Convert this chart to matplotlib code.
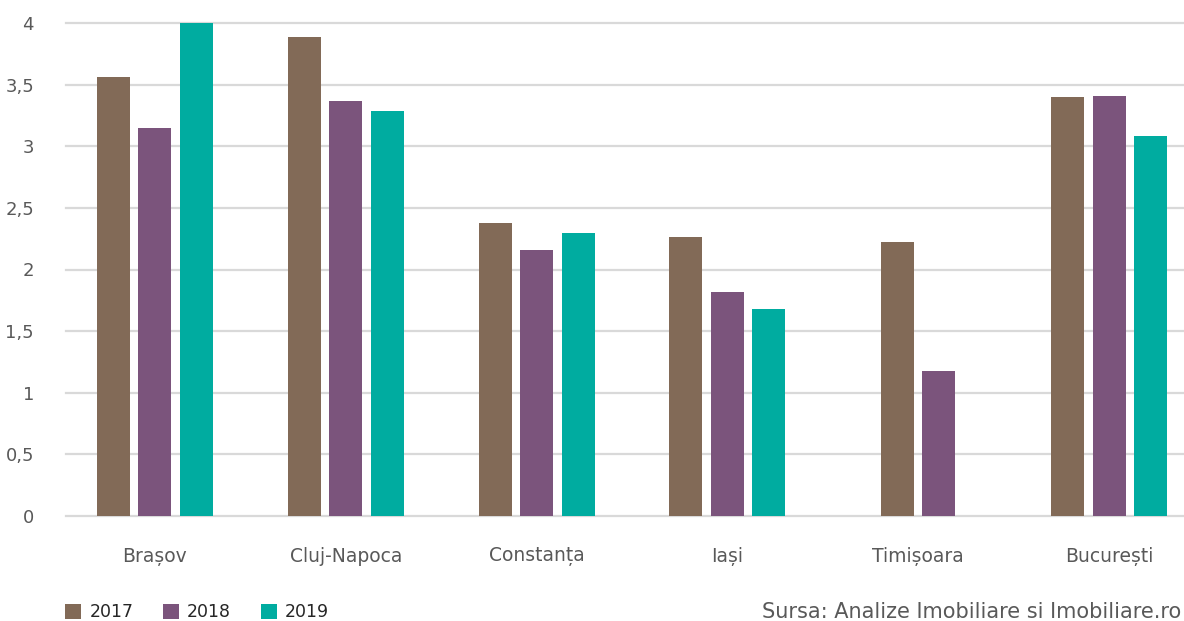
import matplotlib
matplotlib.use("Agg")
import matplotlib.pyplot as plt
import numpy as np

categories = ["Brașov", "Cluj-Napoca", "Constanța", "Iași", "Timișoara", "București"]
years = ["2017", "2018", "2019"]
v2017 = [3.56, 3.89, 2.38, 2.26, 2.22, 3.40]
v2018 = [3.15, 3.37, 2.16, 1.82, 1.18, 3.41]
v2019 = [4.00, 3.29, 2.30, 1.68, np.nan, 3.08]
yticks = [0, 0.5, 1, 1.5, 2, 2.5, 3, 3.5, 4]
ytick_labels = ["0", "0,5", "1", "1,5", "2", "2,5", "3", "3,5", "4"]
source = "Sursa: Analize Imobiliare si Imobiliare.ro"

colors = ["#826A57", "#7B547C", "#00ACA0"]
plt.rcParams['font.family'] = ['DejaVu Sans']
text_color = "#595959"

W, H = 1184, 621
fig = plt.figure(figsize=(W / 100, H / 100), dpi=100)
left = 66 / W
right = 1.0
bottom = (H - 516) / H
top = (H - 23) / H
ax = fig.add_axes([left, bottom, right - left, top - bottom])

series = [v2017, v2018, v2019]
bw = 0.173
step = 0.2175
for j in range(len(categories)):
    present = [i for i in range(len(series)) if not np.isnan(series[i][j])]
    n = len(present)
    for k, i in enumerate(present):
        ax.bar(j + (k - (n - 1) / 2) * step, series[i][j], width=bw,
               color=colors[i], zorder=3, label=years[i] if j == 0 else None)

ax.set_xlim(-0.466, 5.393)
ax.set_ylim(0, 4)
ax.set_yticks(yticks)
ax.set_yticklabels(ytick_labels)
ax.set_xticks(np.arange(len(categories)))
ax.set_xticklabels(categories)
ax.grid(axis='y', color='#d9d9d9', linewidth=1.6, zorder=0, clip_on=False)
ax.set_axisbelow(True)
for s in ax.spines.values():
    s.set_visible(False)
ax.tick_params(axis='x', length=0, labelsize=13.5, labelcolor=text_color, pad=22)
ax.tick_params(axis='y', length=0, labelsize=13, labelcolor=text_color, pad=23)

handles, labels = ax.get_legend_handles_labels()
leg = fig.legend(handles, labels, loc='center left', bbox_to_anchor=(65 / W, (H - 612) / H),
                 ncol=3, frameon=False, fontsize=12.5, handlelength=0.95, handleheight=0.95,
                 handletextpad=0.45, columnspacing=1.7, labelcolor='#262626', borderaxespad=0.0,
                 borderpad=0.0)
fig.text(762 / W, (H - 612) / H, source, fontsize=15, color=text_color, va='center', ha='left')

fig.savefig("out.png", dpi=100)
